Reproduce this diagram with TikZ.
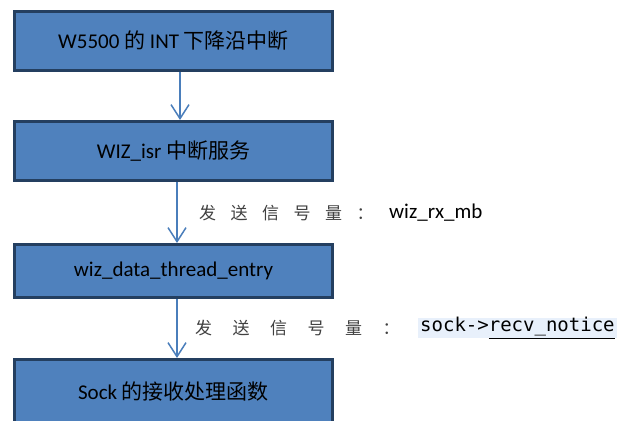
\documentclass[tikz,border=0pt]{standalone}
\usepackage{fontspec}
\setmainfont{Carlito}
\setmonofont{DejaVu Sans Mono}
\newfontfamily\cjk{Noto Sans CJK SC}
\usetikzlibrary{arrows.meta}
\definecolor{boxfill}{HTML}{4F81BD}
\definecolor{boxedge}{HTML}{243F60}
\definecolor{arrowc}{HTML}{4A7EBB}
\definecolor{hl}{HTML}{E8F0FB}
\definecolor{lbl}{HTML}{404040}
\begin{document}
\begin{tikzpicture}[x=1pt,y=-1pt,
  flowbox/.style={draw=boxedge, fill=boxfill, line width=3pt, minimum width=318pt,
    inner sep=0pt, text=black, font=\fontsize{21}{25}\selectfont},
  flowarrow/.style={draw=arrowc, line width=1.5pt, -{Straight Barb[length=14pt,width=18pt,line width=1.5pt]}},
  cnlabel/.style={anchor=west, inner sep=0pt, text=lbl, font=\cjk\fontsize{17}{20}\selectfont},
  latlabel/.style={anchor=west, inner sep=0pt, text=black, font=\fontsize{21}{25}\selectfont},
  codelabel/.style={anchor=west, fill=hl, inner xsep=2pt, inner ysep=0pt, minimum height=20pt, text=black, font=\ttfamily\fontsize{19}{22}\selectfont}
]
\useasboundingbox (0,0) rectangle (617,420);
\node[flowbox, minimum height=59pt] (b1) at (173.5,41) {W5500 {\cjk 的} INT {\cjk 下降沿中断}};
\node[flowbox, minimum height=59pt] (b2) at (173.5,151) {WIZ\_isr {\cjk 中断服务}};
\node[flowbox, minimum height=53pt] (b3) at (173.5,271) {wiz\_data\_thread\_entry};
\node[flowbox, minimum height=65pt] (b4) at (173.5,392) {Sock {\cjk 的接收处理函数}};

\draw[flowarrow] ([xshift=6.5pt]b1.south) -- ([xshift=6.5pt]b2.north);
\draw[flowarrow] ([xshift=3.5pt]b2.south) -- ([xshift=3.5pt]b3.north);
\draw[flowarrow] ([xshift=3.5pt]b3.south) -- ([xshift=3.5pt]b4.north);

\node[cnlabel] (l1a) at (199,213) {发\hspace{14.5pt}送\hspace{14.5pt}信\hspace{14.5pt}号\hspace{14.5pt}量\hspace{14.5pt}：};
\node[latlabel] (l1b) at (389,213) {wiz\_rx\_mb};

\node[cnlabel] (l2a) at (195,328) {发\hspace{20.5pt}送\hspace{20.5pt}信\hspace{20.5pt}号\hspace{20.5pt}量\hspace{20.5pt}：};
\node[codelabel] (l2b) at (418,328) {sock->\underline{recv\_notice}};
\end{tikzpicture}
\end{document}
